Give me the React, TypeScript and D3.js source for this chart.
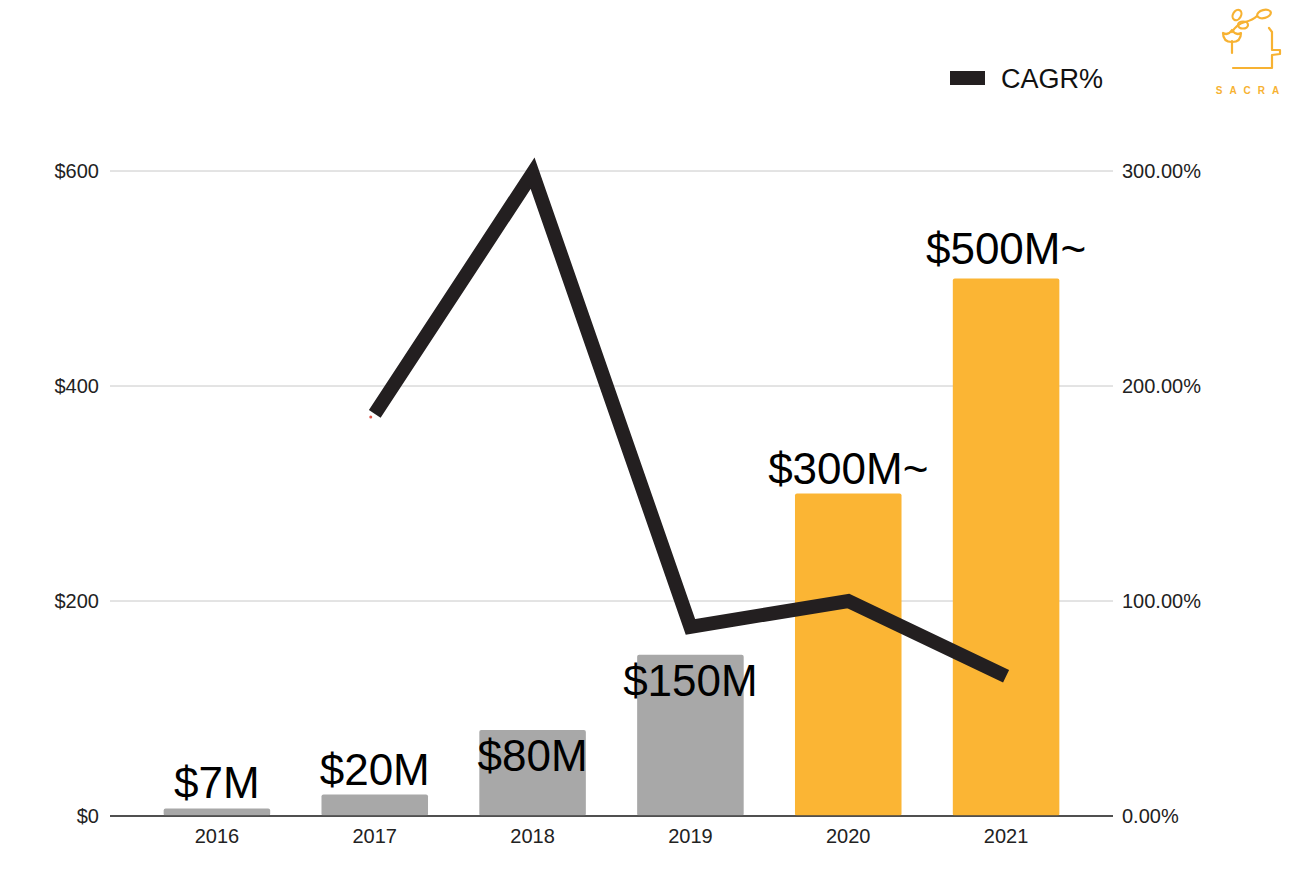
import React from "react";
import * as d3 from "d3";

const years = ["2016", "2017", "2018", "2019", "2020", "2021"];
const revenue = [7, 20, 80, 150, 300, 500];
const revenueLabels = ["$7M", "$20M", "$80M", "$150M", "$300M~", "$500M~"];
const barKinds = ["actual", "actual", "actual", "actual", "estimate", "estimate"];
const cagrYears = ["2017", "2018", "2019", "2020", "2021"];
const cagr = [187, 299, 88, 100, 65];
const leftTicks = [0, 200, 400, 600];
const rightTicks = [0, 100, 200, 300];
const insideLabelYears = ["2018", "2019"];

const W = 1292;
const H = 879;
const FONT = "'Liberation Sans', Arial, Helvetica, sans-serif";

export default function App() {
  const plotL = 110;
  const plotR = 1113;
  const x = d3.scaleBand<string>().domain(years).range([138, 1085]).paddingInner(0.325).paddingOuter(0.1625);
  const yL = d3.scaleLinear().domain([0, 600]).range([816, 171]);
  const yR = d3.scaleLinear().domain([0, 300]).range([816, 171]);
  const cx = (yr: string) => (x(yr) as number) + x.bandwidth() / 2;

  const line = d3
    .line<number>()
    .x((_, i) => cx(cagrYears[i]))
    .y((d) => yR(d));

  return (
    <svg
      width={W}
      height={H}
      style={{ position: "absolute", left: 0, top: 0, background: "#fff" }}
      fontFamily={FONT}
    >
      <rect x={0} y={0} width={W} height={H} fill="#fff" />
      {/* gridlines */}
      {leftTicks.map((t) => (
        <line key={t} x1={plotL} x2={plotR} y1={yL(t)} y2={yL(t)} stroke={t === 0 ? "#444" : "#c8c8c8"} strokeWidth={t === 0 ? 1.5 : 1} />
      ))}
      {/* left ticks */}
      {leftTicks.map((t) => (
        <text key={"l" + t} x={99} y={yL(t) + 7} textAnchor="end" fontSize={20} fill="#222">
          {"$" + t}
        </text>
      ))}
      {rightTicks.map((t) => (
        <text key={"r" + t} x={1122} y={yR(t) + 7} textAnchor="start" fontSize={20} fill="#222">
          {t.toFixed(2) + "%"}
        </text>
      ))}
      {/* bars */}
      {years.map((yr, i) => (
        <rect
          key={yr}
          x={x(yr)}
          y={yL(revenue[i])}
          width={x.bandwidth()}
          height={yL(0) - yL(revenue[i])}
          rx={2}
          fill={barKinds[i] === "actual" ? "#a8a8a8" : "#fbb534"}
        />
      ))}
      <line x1={plotL} x2={plotR} y1={yL(0)} y2={yL(0)} stroke="#444" strokeWidth={1.5} />
      {/* x labels */}
      {years.map((yr) => (
        <text key={"x" + yr} x={cx(yr)} y={843} textAnchor="middle" fontSize={20} fill="#222">
          {yr}
        </text>
      ))}
      {/* line */}
      <path d={line(cagr) || ""} fill="none" stroke="#231f20" strokeWidth={14} strokeLinejoin="miter" strokeLinecap="butt" />
      <circle cx={cx(cagrYears[0]) - 4} cy={yR(cagr[0]) + 3} r={1.5} fill="#e0584a" />
      {/* value labels */}
      {years.map((yr, i) => {
        const inside = insideLabelYears.includes(yr);
        const yy = inside ? yL(revenue[i]) + 41 : yL(revenue[i]) - (i === 5 ? 15 : 10);
        return (
          <text key={"v" + yr} x={cx(yr)} y={yy} textAnchor="middle" fontSize={44} fill="#000">
            {revenueLabels[i]}
          </text>
        );
      })}
      {/* legend */}
      <rect x={950} y={71} width={35} height={14} fill="#231f20" />
      <text x={1001} y={88} fontSize={27} fill="#111">CAGR%</text>
      {/* logo */}
      <g fill="none" stroke="#f7b232" strokeWidth={2.2} strokeLinecap="round" strokeLinejoin="round">
        <path d="M1269,28 L1272,32 L1272,50 L1280,50 L1280,54 L1272,55 L1272,68 L1233,68" />
        <path d="M1232,53 L1232,41" />
        <path d="M1223,33 Q1223,42 1232,42 Q1241,42 1241,33 Q1236,36 1232,30 Q1228,36 1223,33 Z" />
        <path d="M1232,32 Q1237,24 1245,22 Q1253,20 1257,16" />
        <ellipse cx={1264} cy={14} rx={7} ry={4} transform="rotate(-15 1264 14)" />
        <ellipse cx={1243} cy={25} rx={5} ry={3.5} />
        <ellipse cx={1237} cy={15} rx={4} ry={5.5} transform="rotate(30 1237 15)" />
      </g>
      <text x={1251} y={94} textAnchor="middle" fontSize={10} fill="#f7b232" letterSpacing={7} fontWeight="bold">
        SACRA
      </text>
    </svg>
  );
}
